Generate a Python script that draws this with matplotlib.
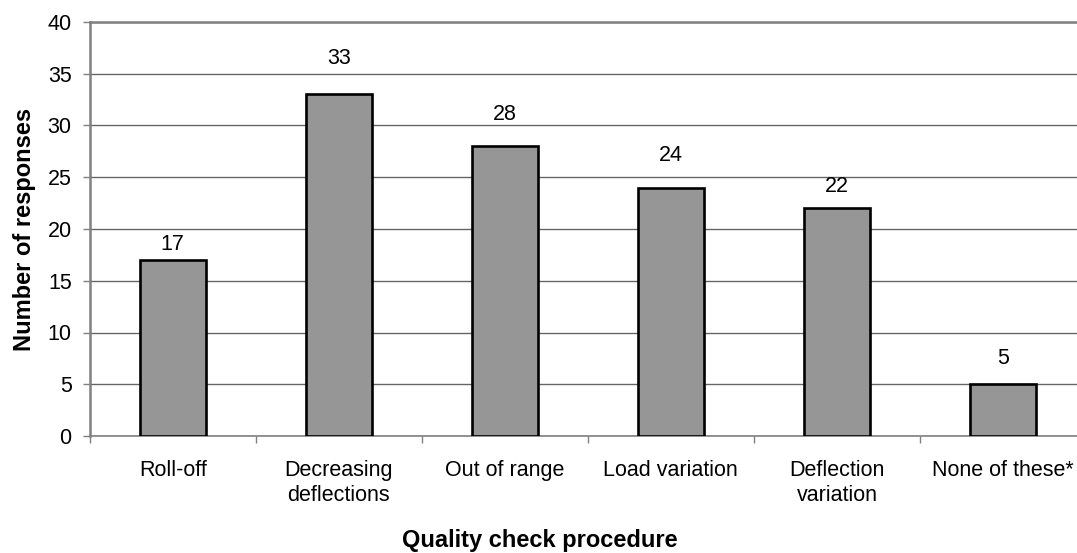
import matplotlib
matplotlib.use("Agg")
import matplotlib.pyplot as plt
import numpy as np

categories = ["Roll-off", "Decreasing\ndeflections", "Out of range",
              "Load variation", "Deflection\nvariation", "None of these*"]
responses = [17, 33, 28, 24, 22, 5]
yticks = [0, 5, 10, 15, 20, 25, 30, 35, 40]
label_gap_px = [10, 30, 26, 27, 16, 20]

plt.rcParams['font.family'] = ['Liberation Sans', 'DejaVu Sans']
FS = 15.5

fig = plt.figure(figsize=(10.77, 5.53), dpi=100)
ax = fig.add_axes([89.7 / 1077, (553 - 436) / 553, (1086 - 89.7) / 1077, (436 - 22) / 553])

x = np.arange(len(categories))
ax.bar(x, responses, width=0.4, color="#969696", edgecolor="black", linewidth=1.9, zorder=3)

for xi, v, g in zip(x, responses, label_gap_px):
    ax.annotate(str(v), (xi, v), xytext=(0, g), textcoords="offset pixels",
                ha="center", va="baseline", fontsize=FS)

ax.set_xlim(-0.5, len(categories) - 0.5)
ax.set_ylim(0, 40)
ax.set_yticks(yticks)
ax.set_yticklabels([str(t) for t in yticks], fontsize=FS)
ax.yaxis.grid(True, color="#666666", linewidth=1.0, zorder=0)
ax.set_axisbelow(True)

ax.set_xticks(x)
ax.set_xticklabels(categories, fontsize=FS, linespacing=1.3)
ax.set_xticks(np.arange(len(categories) + 1) - 0.5, minor=True)
ax.tick_params(axis="x", which="major", length=0, pad=17)
ax.tick_params(axis="x", which="minor", length=5, color="#808080", width=1)
ax.tick_params(axis="y", length=5, color="#808080", width=1, pad=8)

for s in ["top", "right"]:
    ax.spines[s].set_visible(False)
ax.spines["left"].set_color("#808080")
ax.spines["left"].set_linewidth(1.8)
ax.spines["bottom"].set_color("#808080")
ax.spines["bottom"].set_linewidth(1.2)
ax.axhline(40, color="#808080", linewidth=1.8, zorder=1, clip_on=False)

ax.set_ylabel("Number of responses", fontsize=17, fontweight="bold")
ax.yaxis.set_label_coords(-(89.7 - 24) / (1086 - 89.7), 0.5)
ax.yaxis.label.set_va("center")
fig.text(540 / 1077, 1 - 541 / 553, "Quality check procedure", fontsize=17,
         fontweight="bold", ha="center", va="center")

fig.savefig("out.png", dpi=100)
